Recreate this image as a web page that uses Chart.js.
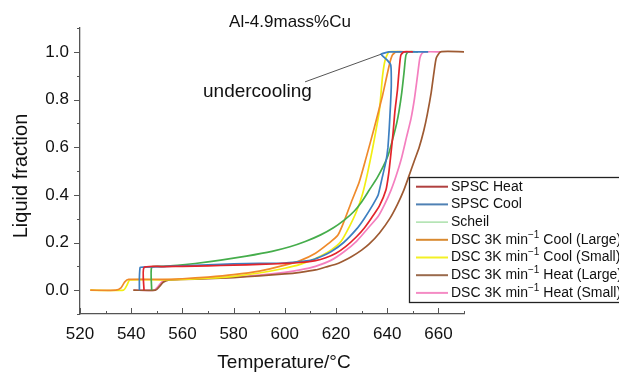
<!DOCTYPE html>
<html>
<head>
<meta charset="utf-8">
<script src="https://cdn.jsdelivr.net/npm/chart.js@4.4.1/dist/chart.umd.min.js"></script>
<style>
    html, body { margin: 0; padding: 0; background: #fff; }
    #wrap { width: 619px; height: 374px; position: relative; }
</style>
</head>
<body>
<div id="wrap"><canvas id="chart"></canvas></div>
<script>
// ============================================================
//  DATA
// ============================================================

const seriesNames = [
    "SPSC Heat",
    "SPSC Cool",
    "Scheil",
    "DSC 3K min⁻¹ Cool (Large)",
    "DSC 3K min⁻¹ Cool (Small)",
    "DSC 3K min⁻¹ Heat (Large)",
    "DSC 3K min⁻¹ Heat (Small)"
];

const spscHeatT = [545, 545, 552, 560, 570, 580, 590, 600, 606, 612, 616, 620, 624, 627.8, 631, 634, 637, 639.5, 640.6, 641.4, 642.3, 643, 644, 644.6, 645.3, 646.5, 650];
const spscHeatF = [0, 0.095, 0.099, 0.1, 0.102, 0.105, 0.108, 0.112, 0.116, 0.124, 0.136, 0.155, 0.185, 0.222, 0.26, 0.305, 0.355, 0.42, 0.49, 0.567, 0.66, 0.749, 0.84, 0.916, 0.985, 1.0, 1.0];

// cooling run, listed from high to low temperature (has the undercooling hook)
const spscCoolT = [656, 648, 643, 640.8, 637.6, 640, 641.4, 641.6, 641.3, 640.8, 640.3, 639.5, 638, 636.5, 634.5, 631, 628, 623, 618, 614, 610, 600, 590, 580, 570, 560, 552, 545, 543.5, 543.2, 543.2];
const spscCoolF = [1.0, 1.0, 1.0, 1.0, 0.99, 0.965, 0.944, 0.86, 0.78, 0.679, 0.6, 0.539, 0.47, 0.4, 0.36, 0.3, 0.256, 0.2, 0.161, 0.14, 0.125, 0.114, 0.112, 0.11, 0.106, 0.102, 0.099, 0.097, 0.096, 0.05, 0];

const scheilT = [548, 548, 552, 558, 565, 575, 585, 595, 602, 608, 614, 619, 623.2, 627, 630, 633, 636, 638.5, 640.5, 642.3, 643.7, 644.6, 645.7, 646.6, 647.3, 648.2, 652];
const scheilF = [0, 0.097, 0.1, 0.104, 0.112, 0.126, 0.143, 0.163, 0.182, 0.204, 0.232, 0.262, 0.294, 0.33, 0.37, 0.42, 0.47, 0.52, 0.57, 0.64, 0.7, 0.75, 0.83, 0.916, 0.985, 1.0, 1.0];

const coolLargeT = [524, 534, 536, 537.5, 539, 552, 560, 570, 580, 590, 600, 606, 612, 617, 620.7, 623.2, 626, 629.1, 631.7, 634.9, 638.2, 640.8, 642, 643.5, 648];
const coolLargeF = [0, 0, 0.01, 0.035, 0.045, 0.045, 0.048, 0.055, 0.065, 0.08, 0.105, 0.124, 0.155, 0.195, 0.23, 0.29, 0.37, 0.455, 0.553, 0.679, 0.818, 0.944, 0.986, 1.0, 1.0];

const coolSmallT = [524, 537, 538.3, 539.5, 552, 560, 570, 580, 590, 600, 606, 612, 618, 622, 625.2, 628, 630.4, 632.3, 634.3, 636.9, 638.2, 639.3, 640.8, 645];
const coolSmallF = [0, 0, 0.02, 0.043, 0.043, 0.045, 0.05, 0.058, 0.072, 0.092, 0.108, 0.133, 0.168, 0.205, 0.266, 0.33, 0.405, 0.49, 0.595, 0.75, 0.9, 0.97, 1.0, 1.0];

const heatLargeT = [540.8, 549.5, 551, 552.5, 554.5, 560, 570, 580, 590, 600, 606, 612, 616, 621, 626, 630, 633, 637, 641, 644, 646.5, 648.2, 650.5, 652.5, 654.3, 655.7, 657.2, 658.3, 659.2, 660.9, 670];
const heatLargeF = [0, 0, 0.015, 0.033, 0.042, 0.045, 0.048, 0.053, 0.06, 0.068, 0.075, 0.085, 0.097, 0.113, 0.14, 0.168, 0.194, 0.24, 0.3, 0.36, 0.42, 0.47, 0.54, 0.6, 0.67, 0.74, 0.83, 0.916, 0.975, 1.0, 1.0];

const heatSmallT = [541, 549, 550.5, 552, 554, 560, 570, 580, 590, 600, 606, 612, 618, 623, 628, 633, 636.5, 639, 641.5, 643.5, 645.5, 647.5, 649.3, 650.6, 651.6, 652.3, 652.8, 653.7, 655, 661];
const heatSmallF = [0, 0, 0.015, 0.035, 0.043, 0.046, 0.05, 0.055, 0.063, 0.075, 0.085, 0.1, 0.125, 0.16, 0.205, 0.266, 0.31, 0.36, 0.42, 0.48, 0.55, 0.64, 0.72, 0.8, 0.88, 0.94, 0.975, 0.995, 1.0, 1.0];

const xTicks = [520, 540, 560, 580, 600, 620, 640, 660];
const yTicks = [0, 0.2, 0.4, 0.6, 0.8, 1.0];

// ============================================================
//  STYLE
// ============================================================

const lineColors = ["#e3242b", "#3d7fc1", "#45ad4b", "#ef8a2a", "#f2ee12", "#9e5a32", "#f47fbf"];
const legendColors = ["#b0403f", "#4f81b4", "#96d996", "#d98a30", "#f3f025", "#9a6a4c", "#f48bc4"];
const FONT = "'Liberation Sans', Arial, Helvetica, sans-serif";

const toPoints = (xs, ys) => xs.map((x, i) => ({ x: x, y: ys[i] }));

const seriesData = [
    toPoints(spscHeatT, spscHeatF),
    toPoints(spscCoolT, spscCoolF),
    toPoints(scheilT, scheilF),
    toPoints(coolLargeT, coolLargeF),
    toPoints(coolSmallT, coolSmallF),
    toPoints(heatLargeT, heatLargeF),
    toPoints(heatSmallT, heatSmallF)
];

// ============================================================
//  PLUGINS
// ============================================================

// tick marks: x ticks point into the plot, y ticks point outward
const tickMarks = {
    id: "tickMarks",
    afterDraw(chart) {
        const { ctx, scales: { x, y } } = chart;
        const axisY = chart.chartArea.bottom;
        const axisX = chart.chartArea.left;
        ctx.save();
        ctx.strokeStyle = "#555";
        ctx.lineWidth = 1;
        ctx.beginPath();
        for (let v = 520; v <= 670; v += 10) {
            const px = Math.round(x.getPixelForValue(v)) + 0.5;
            const len = v % 20 === 0 ? 6 : 3;
            ctx.moveTo(px, axisY);
            ctx.lineTo(px, axisY - len);
        }
        for (let k = -1; k <= 11; k++) {
            const py = Math.round(y.getPixelForValue(k / 10)) + 0.5;
            const len = k % 2 === 0 ? 6 : 3;
            ctx.moveTo(axisX, py);
            ctx.lineTo(axisX - len, py);
        }
        ctx.stroke();
        ctx.restore();
    }
};

const texts = {
    id: "texts",
    afterDraw(chart) {
        const { ctx, scales: { x, y } } = chart;
        ctx.save();
        ctx.fillStyle = "#111";
        ctx.textAlign = "center";
        ctx.textBaseline = "middle";

        ctx.font = "17px " + FONT;
        ctx.fillText("Al-4.9mass%Cu", 290, 22);

        ctx.font = "19px " + FONT;
        ctx.fillText("Temperature/°C", 284, 363);

        ctx.save();
        ctx.translate(21, 176);
        ctx.rotate(-Math.PI / 2);
        ctx.font = "20px " + FONT;
        ctx.fillText("Liquid fraction", 0, 0);
        ctx.restore();

        // undercooling note, placed in data units
        ctx.strokeStyle = "#555";
        ctx.lineWidth = 1;
        ctx.beginPath();
        ctx.moveTo(x.getPixelForValue(607.9), y.getPixelForValue(0.874));
        ctx.lineTo(x.getPixelForValue(637.6), y.getPixelForValue(0.99));
        ctx.stroke();
        ctx.font = "19px " + FONT;
        ctx.fillText("undercooling", x.getPixelForValue(589.3), y.getPixelForValue(0.831));
        ctx.restore();
    }
};

// legend box, runs off the right edge like the original
const legendBox = {
    id: "legendBox",
    afterDraw(chart) {
        const ctx = chart.ctx;
        const x0 = 409.5, y0 = 177.5, w = 240, h = 125;
        ctx.save();
        ctx.fillStyle = "#fff";
        ctx.fillRect(x0, y0, w, h);
        ctx.strokeStyle = "#222";
        ctx.lineWidth = 1.3;
        ctx.strokeRect(x0, y0, w, h);

        ctx.textBaseline = "middle";
        ctx.textAlign = "left";
        chart.data.datasets.forEach((ds, i) => {
            const cy = 186.7 + i * 17.7;
            ctx.strokeStyle = legendColors[i];
            ctx.lineWidth = i === 2 ? 1.2 : 2;
            ctx.beginPath();
            ctx.moveTo(416, cy);
            ctx.lineTo(448, cy);
            ctx.stroke();

            ctx.fillStyle = "#111";
            const parts = ds.label.split("⁻¹");
            let tx = 451;
            ctx.font = "14px " + FONT;
            ctx.fillText(parts[0], tx, cy);
            if (parts.length > 1) {
                tx += ctx.measureText(parts[0]).width;
                ctx.font = "10px " + FONT;
                ctx.fillText("−1", tx, cy - 5);
                tx += ctx.measureText("−1").width;
                ctx.font = "14px " + FONT;
                ctx.fillText(parts[1], tx, cy);
            }
        });
        ctx.restore();
    }
};

// ============================================================
//  CHART
// ============================================================

new Chart(document.getElementById("chart"), {
    type: "line",
    data: {
        datasets: seriesData.map((pts, i) => ({
            label: seriesNames[i],
            data: pts,
            borderColor: lineColors[i],
            borderWidth: 1.7,
            pointRadius: 0,
            fill: false,
            tension: i === 1 ? 0.1 : 0.2
        }))
    },
    options: {
        responsive: true,
        maintainAspectRatio: false,
        animation: false,
        layout: { padding: { top: 28, right: 155, left: 0, bottom: 0 } },
        plugins: {
            legend: { display: false },
            title: { display: false },
            tooltip: { enabled: false }
        },
        scales: {
            x: {
                type: "linear",
                min: 520,
                max: 670,
                afterFit: s => { s.height = 60; },
                afterBuildTicks: s => { s.ticks = xTicks.map(v => ({ value: v })); },
                grid: { display: false, drawTicks: false },
                border: { display: true, color: "#555", width: 1.3 },
                ticks: {
                    padding: 10,
                    color: "#111",
                    font: { family: FONT, size: 17 },
                    maxRotation: 0
                }
            },
            y: {
                type: "linear",
                min: -0.1,
                max: 1.1,
                afterFit: s => { s.width = 80; },
                afterBuildTicks: s => { s.ticks = yTicks.map(v => ({ value: v })); },
                grid: { display: false, drawTicks: false },
                border: { display: true, color: "#555", width: 1.3 },
                ticks: {
                    padding: 11,
                    color: "#111",
                    font: { family: FONT, size: 17 },
                    callback: v => v.toFixed(1)
                }
            }
        }
    },
    plugins: [tickMarks, texts, legendBox]
});
</script>
</body>
</html>
